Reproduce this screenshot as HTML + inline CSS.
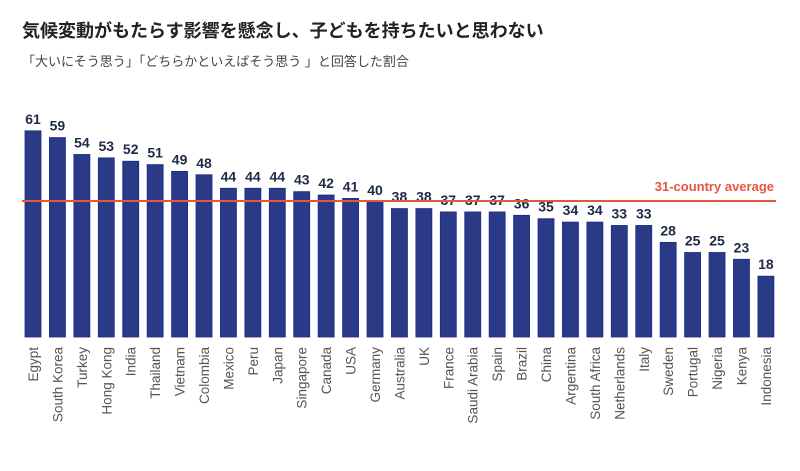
<!DOCTYPE html><html><head><meta charset="utf-8"><style>body{margin:0;background:#fff;width:800px;height:466px;overflow:hidden;font-family:"Liberation Sans","Noto Sans CJK JP",sans-serif}</style></head><body>
<svg width="800" height="466" xmlns="http://www.w3.org/2000/svg" font-family="Liberation Sans, Noto Sans CJK JP, sans-serif">
<text x="22" y="37" font-size="18" font-weight="bold" fill="#222">気候変動がもたらす影響を懸念し、子どもを持ちたいと思わない</text>
<text x="22" y="66" font-size="13" fill="#444">「大いにそう思う」「どちらかといえばそう思う 」と回答した割合</text>
<g id="bars"></g>
<line x1="22" y1="201" x2="776" y2="201" stroke="#e8553e" stroke-width="2"/>
<text x="774" y="191" font-size="13" font-weight="bold" fill="#e8553e" text-anchor="end">31-country average</text>
</svg>
<script>
var d=[["Egypt",61],["South Korea",59],["Turkey",54],["Hong Kong",53],["India",52],["Thailand",51],["Vietnam",49],["Colombia",48],["Mexico",44],["Peru",44],["Japan",44],["Singapore",43],["Canada",42],["USA",41],["Germany",40],["Australia",38],["UK",38],["France",37],["Saudi Arabia",37],["Spain",37],["Brazil",36],["China",35],["Argentina",34],["South Africa",34],["Netherlands",33],["Italy",33],["Sweden",28],["Portugal",25],["Nigeria",25],["Kenya",23],["Indonesia",18]];
var s="";
d.forEach(function(e,i){var x=25+i*24.43,h=e[1]*3.38,y=337-h,c=x+8;
s+='<rect x="'+x+'" y="'+y+'" width="16" height="'+h+'" fill="#2b3a87" stroke="#1a2a8a" stroke-width="0.8"/>';
s+='<text x="'+c+'" y="'+(y-7)+'" font-size="14" font-weight="bold" fill="#1f2a44" text-anchor="middle">'+e[1]+'</text>';
s+='<text transform="translate('+(c+5)+',347) rotate(-90)" font-size="13.5" fill="#555" text-anchor="end">'+e[0]+'</text>';});
document.getElementById("bars").innerHTML=s;
</script>
</body></html>
